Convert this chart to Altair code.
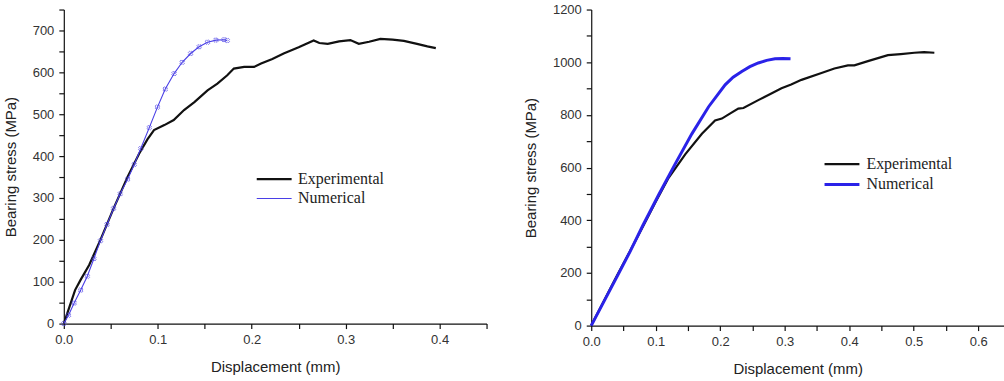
import altair as alt
import pandas as pd

# ---------------- Left panel data ----------------
l_exp_x = [0, 0.006, 0.012, 0.018, 0.027, 0.039, 0.053, 0.068, 0.080, 0.089, 0.096, 0.107,
           0.117, 0.128, 0.139, 0.153, 0.1635, 0.174, 0.181, 0.192, 0.2025, 0.21, 0.222,
           0.234, 0.25, 0.266, 0.272, 0.281, 0.293, 0.305, 0.314, 0.325, 0.337, 0.35,
           0.362, 0.376, 0.387, 0.396]
l_exp_y = [0, 40, 80, 105, 140, 200, 275, 351, 405, 440, 462, 474,
           486, 510, 529, 557, 573, 593, 609, 613, 613, 621, 632,
           645, 660, 676, 670, 668, 674, 677, 668, 673, 680, 678,
           675, 668, 662, 658]
l_num_x = [0, 0.005, 0.011, 0.018, 0.025, 0.032, 0.039, 0.046, 0.053, 0.06, 0.068, 0.075,
           0.0819, 0.091, 0.0997, 0.108, 0.1174, 0.126, 0.135, 0.144, 0.153, 0.162, 0.1706,
           0.174]
l_num_y = [0, 20, 49, 80, 113, 155, 198, 237, 275, 310, 345, 380,
           418, 468, 517, 560, 597, 624, 645, 661, 672, 677, 678,
           676]

# ---------------- Right panel data ----------------
r_exp_x = [0, 0.02, 0.04, 0.06, 0.08, 0.1, 0.12, 0.146, 0.1716, 0.192, 0.2025, 0.215,
           0.228, 0.236, 0.259, 0.277, 0.295, 0.31, 0.326, 0.357, 0.377, 0.398, 0.408,
           0.429, 0.46, 0.48, 0.501, 0.516, 0.532]
r_exp_y = [0, 95, 190, 282, 375, 470, 561, 651, 728, 779, 786, 805,
           824, 826, 856, 878, 901, 915, 933, 959, 976, 988, 988,
           1004, 1027, 1031, 1036, 1038, 1036]
r_num_x = [0, 0.02, 0.04, 0.06, 0.08, 0.1046, 0.13, 0.156, 0.182, 0.2076, 0.22, 0.2334,
           0.246, 0.259, 0.272, 0.285, 0.297, 0.309]
r_num_y = [0, 93, 186, 280, 380, 497, 613, 728, 831, 914, 943, 965,
           983, 997, 1007, 1013, 1014, 1013]

series_names = ["Experimental", "Numerical"]
x_title = "Displacement (mm)"
y_title = "Bearing stress (MPa)"

left_x_ticks = [0, 0.05, 0.1, 0.15, 0.2, 0.25, 0.3, 0.35, 0.4, 0.45]
left_y_ticks = [0, 50, 100, 150, 200, 250, 300, 350, 400, 450, 500, 550, 600, 650, 700, 750]
right_x_ticks = [0, 0.05, 0.1, 0.15, 0.2, 0.25, 0.3, 0.35, 0.4, 0.45, 0.5, 0.55, 0.6]
right_y_ticks = [0, 100, 200, 300, 400, 500, 600, 700, 800, 900, 1000, 1100, 1200]


def frame(ex, ey, nx, ny):
    rows = [{"disp": a, "stress": b, "series": series_names[0], "order": i}
            for i, (a, b) in enumerate(zip(ex, ey))]
    rows += [{"disp": a, "stress": b, "series": series_names[1], "order": i}
             for i, (a, b) in enumerate(zip(nx, ny))]
    return pd.DataFrame(rows)


XLAB = "abs(datum.value*10 - round(datum.value*10)) < 0.001 ? format(datum.value, '.1f') : ''"


def panel(df, xdom, xticks, ydom, yticks, ystep, w, h, colors, widths, legx, legy, markers):
    ylab = f"datum.value % {ystep} == 0 ? format(datum.value, 'd') : ''"
    x = alt.X("disp:Q", scale=alt.Scale(domain=xdom, nice=False, zero=False),
              axis=alt.Axis(values=xticks, labelExpr=XLAB, title=x_title, labelFlush=False,
                            labelOverlap=False, titlePadding=13))
    y = alt.Y("stress:Q", scale=alt.Scale(domain=ydom, nice=False, zero=False),
              axis=alt.Axis(values=yticks, labelExpr=ylab, title=y_title, labelOverlap=False,
                            titlePadding=14))
    leg = alt.Legend(title=None, orient="none", legendX=legx, legendY=legy,
                     symbolType="M-2,0L2,0", symbolSize=306, rowPadding=2,
                     labelFont="Liberation Serif", labelFontSize=16, labelColor="#222",
                     labelOffset=14)
    lines = alt.Chart(df).mark_line(interpolate="linear").encode(
        x=x, y=y, order="order:Q",
        color=alt.Color("series:N", scale=alt.Scale(domain=series_names, range=colors), legend=leg),
        strokeWidth=alt.StrokeWidth("series:N", scale=alt.Scale(domain=series_names, range=widths),
                                    legend=leg),
    )
    layers = [lines]
    if markers:
        pts = alt.Chart(df).transform_filter(alt.datum.series == series_names[1]).mark_point(
            shape="cross", angle=45, size=22, filled=False, strokeWidth=0.9, color=colors[1]
        ).encode(x=x, y=y)
        layers.append(pts)
    return alt.layer(*layers).properties(width=w, height=h)


left = panel(frame(l_exp_x, l_exp_y, l_num_x, l_num_y), [0, 0.45], left_x_ticks,
             [0, 750], left_y_ticks, 100, 424, 315, ["#111111", "#4a3fe6"], [2.2, 1.1],
             201, 160, True)
right = panel(frame(r_exp_x, r_exp_y, r_num_x, r_num_y), [0, 0.64], right_x_ticks,
              [0, 1200], right_y_ticks, 200, 414, 317, ["#111111", "#2a22e8"], [2.2, 3.0],
              241, 145, False)

chart = alt.hconcat(left, right, spacing=36).resolve_scale(
    color="independent", strokeWidth="independent", x="independent", y="independent"
).resolve_legend(color="independent", strokeWidth="independent").configure_view(
    stroke=None
).configure_axis(
    grid=False, domainColor="#111", domainWidth=1.2, tickColor="#111", tickSize=5,
    tickWidth=1.2, labelFont="Liberation Sans", labelFontSize=13, labelColor="#333",
    labelPadding=5, titleFont="Liberation Sans", titleFontSize=15, titleFontWeight="normal",
    titleColor="#222"
).properties(background="white", padding={"left": 3, "top": 3, "right": 0, "bottom": 0})

chart.save("out.html", embed_options={"renderer": "svg", "actions": False})
